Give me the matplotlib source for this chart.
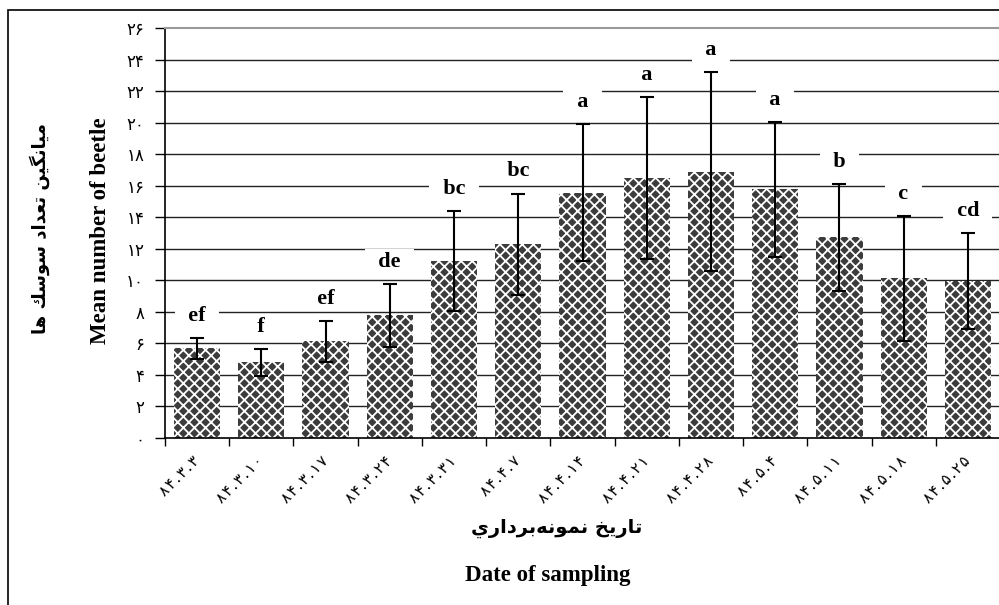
import numpy as np
import matplotlib
matplotlib.use('Agg')
import matplotlib.pyplot as plt
from matplotlib.patches import Rectangle

# sampling dates (Persian digits) and beetle counts
dates = ['۸۴.۳.۳', '۸۴.۳.۱۰', '۸۴.۳.۱۷', '۸۴.۳.۲۴', '۸۴.۳.۳۱', '۸۴.۴.۷', '۸۴.۴.۱۴',
         '۸۴.۴.۲۱', '۸۴.۴.۲۸', '۸۴.۵.۴', '۸۴.۵.۱۱', '۸۴.۵.۱۸', '۸۴.۵.۲۵']
means = [5.69, 4.8, 6.13, 7.78, 11.24, 12.3, 15.56, 16.47, 16.89, 15.77, 12.73, 10.13, 9.97]
errs = [0.65, 0.86, 1.3, 2.0, 3.18, 3.2, 4.33, 5.15, 6.3, 4.27, 3.38, 3.95, 3.05]
letters = ['ef', 'f', 'ef', 'de', 'bc', 'bc', 'a', 'a', 'a', 'a', 'b', 'c', 'cd']
yticks = list(range(0, 27, 2))

ylabel_fa = 'ميانگين تعداد سوسك ها'
xlabel_fa = 'تاريخ نمونه\u200cبرداري'

# Arabic presentation forms: isolated, final, initial, medial
FORMS = {
    'ا': ('\uFE8D', '\uFE8E', None, None),
    'ب': ('\uFE8F', '\uFE90', '\uFE91', '\uFE92'),
    'ت': ('\uFE95', '\uFE96', '\uFE97', '\uFE98'),
    'خ': ('\uFEA5', '\uFEA6', '\uFEA7', '\uFEA8'),
    'د': ('\uFEA9', '\uFEAA', None, None),
    'ر': ('\uFEAD', '\uFEAE', None, None),
    'س': ('\uFEB1', '\uFEB2', '\uFEB3', '\uFEB4'),
    'ع': ('\uFEC9', '\uFECA', '\uFECB', '\uFECC'),
    'ك': ('\uFED9', '\uFEDA', '\uFEDB', '\uFEDC'),
    'گ': ('\uFB92', '\uFB93', '\uFB94', '\uFB95'),
    'م': ('\uFEE1', '\uFEE2', '\uFEE3', '\uFEE4'),
    'ن': ('\uFEE5', '\uFEE6', '\uFEE7', '\uFEE8'),
    'ه': ('\uFEE9', '\uFEEA', '\uFEEB', '\uFEEC'),
    'و': ('\uFEED', '\uFEEE', None, None),
    'ي': ('\uFEF1', '\uFEF2', '\uFEF3', '\uFEF4'),
}


def shape(text):
    # minimal joining + right-to-left ordering, matplotlib has no shaping
    out = []
    for i, ch in enumerate(text):
        if ch not in FORMS:
            out.append('' if ch == '\u200c' else ch)
            continue
        prev = text[i - 1] if i > 0 else ''
        nxt = text[i + 1] if i + 1 < len(text) else ''
        jp = prev in FORMS and FORMS[prev][2] is not None
        jn = FORMS[ch][2] is not None and nxt in FORMS
        iso, fin, ini, med = FORMS[ch]
        out.append(med if (jp and jn) else fin if jp else ini if jn else iso)
    return ''.join(reversed(out))


def fa_digits(n):
    return ''.join('۰۱۲۳۴۵۶۷۸۹'[int(d)] for d in str(n))


plt.rcParams['hatch.linewidth'] = 1.3
plt.rcParams['hatch.color'] = 'white'

fig = plt.figure(figsize=(9.99, 6.05), dpi=100)
ax = fig.add_axes([165 / 999, 1 - 438 / 605, 835 / 999, 410 / 605])

# outer chart frame
fig.patches.append(Rectangle((8 / 999, -0.01), 1.0, 1 - 10 / 605 + 0.01, transform=fig.transFigure,
                             fill=False, edgecolor='black', linewidth=1.2))

x = np.arange(len(dates))
ax.bar(x, means, width=0.72, color='#3c3c3c', edgecolor='white', linewidth=0, hatch='xxx', zorder=2)
ax.errorbar(x, means, yerr=errs, fmt='none', ecolor='black', elinewidth=1.5, capsize=5, capthick=1.5, zorder=3)

for xi, m, e, lab in zip(x, means, errs, letters):
    ax.text(xi, m + e + 1.4, f'  {lab}  ', ha='center', va='center', fontsize=16, fontweight='bold',
            family='Liberation Serif', zorder=1,
            bbox=dict(boxstyle='square,pad=0.1', facecolor='white', edgecolor='none'))

ax.set_xlim(-0.5, len(dates) - 0.5)
ax.set_ylim(0, 26)
for yv in yticks[1:-1]:
    ax.axhline(yv, color='#222222', linewidth=1, zorder=0.5)

ax.set_yticks(yticks)
ax.set_yticklabels([fa_digits(v) for v in yticks], family='DejaVu Sans', fontsize=12)
ax.tick_params(axis='y', direction='out', length=7, width=1, pad=8)

ax.set_xticks(np.arange(-0.5, len(dates), 1))
ax.set_xticklabels([])
ax.tick_params(axis='x', which='major', direction='out', length=6, width=1)
ax.set_xticks(x, minor=True)
# the original labels are loosely spaced, add hair spaces between glyphs
ax.set_xticklabels(['\u200a'.join(d) for d in dates], minor=True, rotation=45, ha='right', va='center',
                   rotation_mode='anchor', family='DejaVu Sans', fontsize=11)
ax.tick_params(axis='x', which='minor', length=0, pad=15)

ax.spines['top'].set_color('#999999')
ax.spines['top'].set_linewidth(1.5)
ax.spines['right'].set_visible(False)
ax.spines['left'].set_linewidth(1.2)
ax.spines['bottom'].set_linewidth(1.2)

fig.text(100 / 999, 1 - 231 / 605, 'Mean number of beetle', rotation=90, ha='center', va='center',
         fontsize=16.5, fontweight='bold', family='Liberation Serif')
fig.text(40 / 999, 1 - 229 / 605, shape(ylabel_fa), rotation=90, ha='center', va='center',
         fontsize=13, fontweight='bold', family='DejaVu Sans')
fig.text(557 / 999, 1 - 528 / 605, shape(xlabel_fa), ha='center', va='center',
         fontsize=14, fontweight='bold', family='DejaVu Sans')
fig.text(548 / 999, 1 - 575 / 605, 'Date of sampling', ha='center', va='center',
         fontsize=16.5, fontweight='bold', family='Liberation Serif')

fig.savefig('out.png', dpi=100)
